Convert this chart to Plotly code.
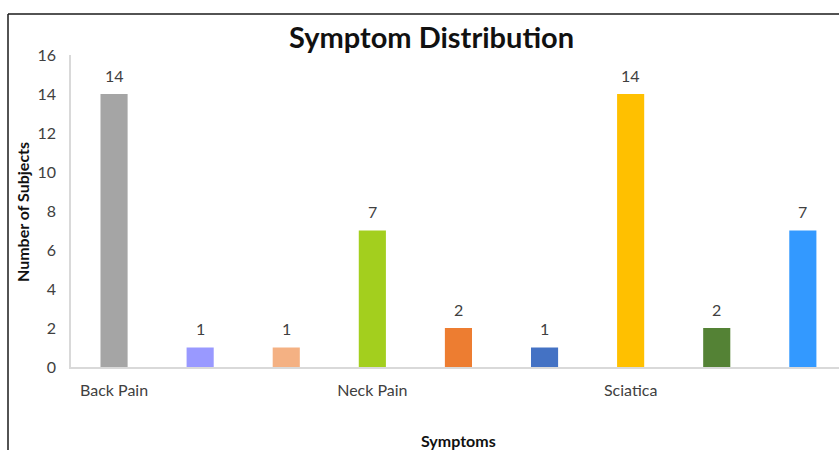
import plotly.graph_objects as go

# Symptom groups shown on the category axis
symptoms = ["Back Pain", "Neck Pain", "Sciatica"]
bars_per_symptom = 3

# Subject counts, three bars per symptom group
counts = [14, 1, 1, 7, 2, 1, 14, 2, 7]
bar_colors = ["#A5A5A5", "#9999FF", "#F4B183",
              "#A3CF1E", "#ED7D31", "#4472C4",
              "#FFC000", "#548235", "#3399FF"]

y_ticks = [0, 2, 4, 6, 8, 10, 12, 14, 16]

FONT = "Lato, 'Open Sans', sans-serif"
TEXT = "#404040"

positions = list(range(len(counts)))
group_starts = [i * bars_per_symptom for i in range(len(symptoms))]

fig = go.Figure(go.Bar(
    x=positions,
    y=counts,
    marker=dict(color=bar_colors, line=dict(width=0)),
    width=0.315,
    hoverinfo="x+y",
))

# value labels above each bar
for xi, v in zip(positions, counts):
    fig.add_annotation(x=xi, y=v, text=str(v), showarrow=False,
                       yshift=19, font=dict(family=FONT, size=16, color=TEXT))

# chart frame (top and left edges)
L, R, T, B = 71, 0, 55, 83
W, H = 839, 450
pw, ph = W - L - R, H - T - B
px = lambda x: (x - L) / pw
py = lambda y: (H - B - y) / ph
fig.add_shape(type="line", xref="paper", yref="paper",
              x0=px(8), x1=px(845), y0=py(14), y1=py(14),
              line=dict(color="#1a1a1a", width=1.5))
fig.add_shape(type="line", xref="paper", yref="paper",
              x0=px(8), x1=px(8), y0=py(14), y1=py(455),
              line=dict(color="#1a1a1a", width=1.5))

# titles
fig.add_annotation(xref="paper", yref="paper", x=px(431), y=py(37),
                   text="<b>Symptom Distribution</b>", showarrow=False,
                   font=dict(family=FONT, size=29, color="#111111"),
                   xanchor="center", yanchor="middle")
fig.add_annotation(xref="paper", yref="paper", x=px(22), y=py(212),
                   text="<b>Number of Subjects</b>", showarrow=False,
                   textangle=-90,
                   font=dict(family=FONT, size=16, color="#111111"),
                   xanchor="center", yanchor="middle")
fig.add_annotation(xref="paper", yref="paper", x=px(458), y=py(440),
                   text="<b>Symptoms</b>", showarrow=False,
                   font=dict(family=FONT, size=16, color="#111111"),
                   xanchor="center", yanchor="middle")

fig.update_layout(
    width=W, height=H,
    margin=dict(l=L, r=R, t=T, b=B, pad=0),
    paper_bgcolor="white", plot_bgcolor="white",
    showlegend=False,
    font=dict(family=FONT, color=TEXT),
    xaxis=dict(
        range=[-0.5, 8.42],
        tickmode="array", tickvals=group_starts, ticktext=symptoms,
        tickfont=dict(family=FONT, size=16, color=TEXT),
        showgrid=False, zeroline=False,
        showline=True, linecolor="#D9D9D9", linewidth=1.5,
        ticks="outside", ticklen=8, tickcolor="rgba(0,0,0,0)",
        fixedrange=True,
    ),
    yaxis=dict(
        range=[0, 16],
        tickmode="array", tickvals=y_ticks,
        tickfont=dict(family=FONT, size=16, color=TEXT),
        showgrid=False, zeroline=False,
        showline=True, linecolor="#D9D9D9", linewidth=1.5,
        ticks="outside", ticklen=10, tickcolor="rgba(0,0,0,0)",
        fixedrange=True,
    ),
)

fig.write_html("out.html")
